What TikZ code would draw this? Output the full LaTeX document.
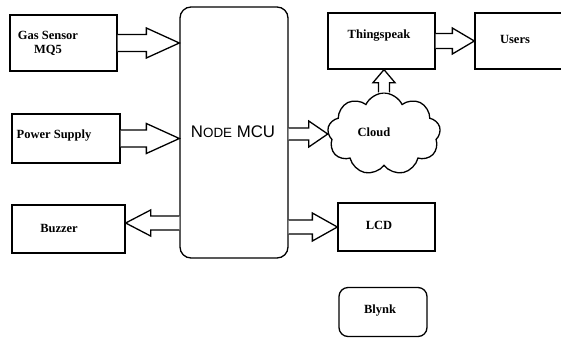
\documentclass[tikz,border=0pt]{standalone}
\usepackage{fontspec}
\newfontfamily\boxfont{Liberation Serif}
\newfontfamily\mcufont{Liberation Sans}
\usetikzlibrary{calc,shapes.symbols}
\def\blockarrow(#1)(#2)(#3:#4:#5){\draw[line width=1.3pt, line join=miter, fill=white] let \p1=(#1), \p2=(#2), \n1={atan2(\y2-\y1,\x2-\x1)}, \n2={veclen(\x2-\x1,\y2-\y1)} in [shift={(\p1)}, rotate=\n1] (0pt, -#3pt) -- ({\n2-#5pt}, -#3pt) -- ({\n2-#5pt}, -#4pt) -- (\n2, 0pt) -- ({\n2-#5pt}, #4pt) -- ({\n2-#5pt}, #3pt) -- (0pt, #3pt);}

\begin{document}
\begin{tikzpicture}[x=1pt, y=-1pt,
	blockbox/.style={draw, line width=1.3pt, inner sep=0pt},
	boxtext/.style={font=\boxfont\bfseries\fontsize{12.5}{14}\selectfont, align=center, inner sep=0pt}]
			%%%%% START %%%%%
			
			\useasboundingbox (0, 0) rectangle (561, 338);
			
			\node[blockbox, minimum width=107pt, minimum height=56pt] (gas) at (63.5, 43) {};
			\node[boxtext] (gastext) at (48, 43) {Gas Sensor\\MQ5};
			
			\node[blockbox, minimum width=108pt, minimum height=49pt] (power) at (66, 138.5) {};
			\node[boxtext] (powertext) at (54, 136) {Power Supply};
			
			\node[blockbox, minimum width=113pt, minimum height=48pt] (buzzer) at (68.5, 229) {};
			\node[boxtext] (buzzertext) at (59, 228) {Buzzer};
			
			\node[blockbox, rounded corners=11pt, minimum width=108pt, minimum height=251pt] (mcu) at (234, 132.5) {};
			\node[font=\mcufont\fontsize{16.8}{18}\selectfont, inner sep=0pt] (mcutext) at (233, 132) {N{\fontsize{13.4}{14}\selectfont ODE} MCU};
			
			\node[blockbox, minimum width=107pt, minimum height=56pt] (thing) at (381.5, 41) {};
			\node[boxtext] (thingtext) at (379, 36) {Thingspeak};
			
			\node[blockbox, minimum width=125pt, minimum height=56pt] (users) at (537.5, 41) {};
			\node[boxtext] (userstext) at (515, 39) {Users};
			
			\node[draw, line width=1.3pt, cloud, cloud puffs=9, cloud puff arc=130, aspect=1.4, minimum width=113pt, minimum height=82pt, inner sep=0pt] (cloud) at (384, 134) {};
			\node[boxtext] (cloudtext) at (374, 132) {Cloud};
			
			\node[blockbox, minimum width=97pt, minimum height=48pt] (lcd) at (386.5, 227) {};
			\node[boxtext] (lcdtext) at (379, 225) {LCD};
			
			\node[blockbox, rounded corners=9pt, minimum width=88pt, minimum height=49pt] (blynk) at (383, 312) {};
			\node[boxtext] (blynktext) at (380, 311) {Blynk};
			
			\blockarrow(gas.east)(gas.east -| mcu.west)(8.5:15:33);
			\blockarrow(power.east)(power.east -| mcu.west)(8.5:15:33);
			\blockarrow([yshift=6pt]buzzer.east -| mcu.west)([yshift=6pt]buzzer.east)(7:13:25);
			\blockarrow(cloud.west -| mcu.east)(cloud.west)(6:13:19);
			\blockarrow(lcd.west -| mcu.east)(lcd.west)(7:14:25);
			\blockarrow(cloud.north)(cloud.north |- thing.south)(5.5:11:13);
			\blockarrow(thing.east)(thing.east -| users.west)(7.5:13:22);
			
			%%%%% END %%%%%
		\end{tikzpicture}
\end{document}
